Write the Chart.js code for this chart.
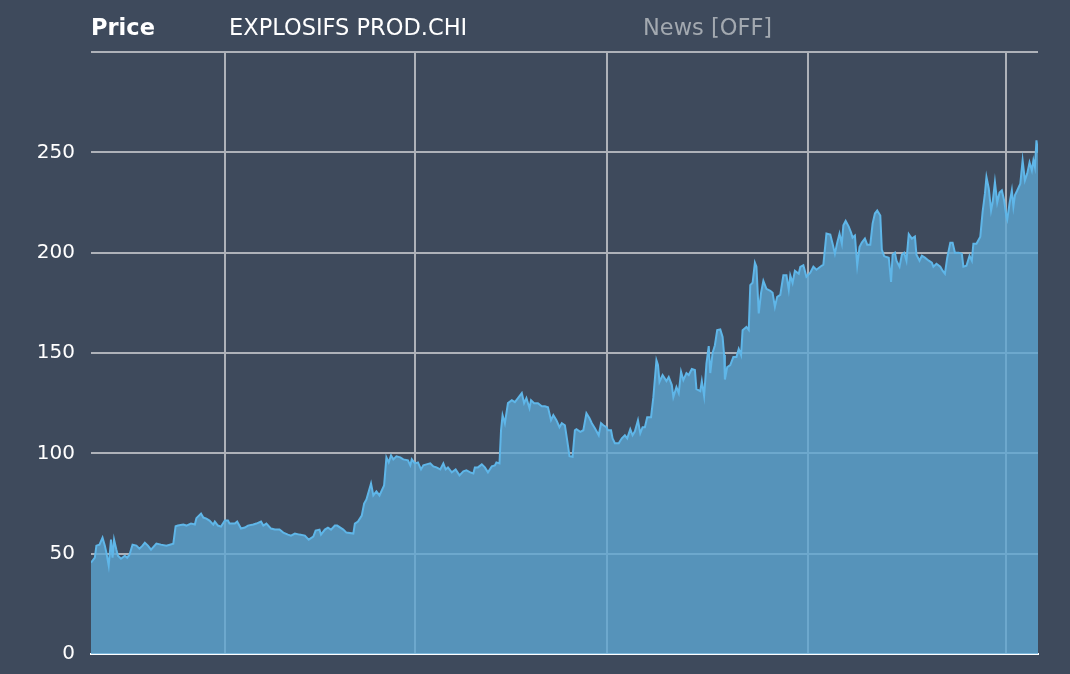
<!DOCTYPE html>
<html>
<head>
<meta charset="utf-8">
<script src="https://cdn.jsdelivr.net/npm/chart.js@4/dist/chart.umd.min.js"></script>
<style>
    html, body { margin: 0; padding: 0; background: #3e4a5c; }
    #wrap { position: relative; width: 1070px; height: 674px; }
    .head { position: absolute; top: 14px; font-family: "DejaVu Sans", Verdana, sans-serif; font-size: 22.5px; line-height: 26px; white-space: nowrap; }
    #title { left: 91px; color: #ffffff; font-weight: bold; }
    #name { left: 229px; color: #ffffff; }
    #news { left: 643px; color: #a3a9b0; }
    canvas { position: absolute; left: 0; top: 0; }
</style>
</head>
<body>
<div id="wrap">
    <canvas id="priceChart" width="1070" height="674"></canvas>
    <div class="head" id="title">Price</div>
    <div class="head" id="name">EXPLOSIFS PROD.CHI</div>
    <div class="head" id="news">News [OFF]</div>
</div>
<script>
// seans numarası (işlem günü) ve kapanış fiyatı
const sessions = [
    0, 5, 7, 11, 15, 18, 20, 23, 26, 28, 30, 33, 35, 39, 44, 47, 50, 54, 59, 63,
    67, 70, 74, 78, 85, 91, 98, 107, 110, 113, 120, 124, 130, 135, 137, 143, 146, 150, 154, 159,
    161, 165, 169, 174, 178, 180, 187, 190, 195, 200, 204, 211, 215, 221, 224, 228, 234, 239, 245, 250,
    256, 260, 265, 271, 278, 283, 289, 292, 297, 299, 304, 308, 312, 317, 320, 328, 332, 341, 343, 347,
    352, 355, 358, 361, 364, 367, 371, 375, 378, 381, 384, 387, 390, 393, 397, 402, 406, 412, 415, 417,
    421, 425, 429, 432, 436, 441, 445, 449, 454, 458, 461, 464, 469, 474, 479, 484, 488, 493, 497, 499,
    503, 508, 512, 516, 521, 525, 527, 531, 533, 535, 538, 542, 547, 551, 555, 560, 563, 566, 570, 572,
    576, 581, 586, 590, 594, 598, 601, 605, 609, 612, 616, 619, 622, 626, 629, 631, 636, 640, 644, 648,
    651, 655, 660, 663, 666, 670, 672, 676, 678, 681, 686, 690, 694, 697, 701, 704, 707, 711, 714, 717,
    720, 723, 728, 731, 735, 737, 739, 743, 748, 751, 755, 757, 761, 764, 767, 770, 774, 777, 781, 785,
    787, 792, 794, 797, 800, 803, 805, 808, 811, 814, 818, 821, 823, 824, 827, 831, 835, 839, 842, 845,
    847, 852, 855, 857, 860, 863, 865, 868, 871, 874, 878, 883, 886, 889, 892, 896, 900, 904, 907, 909,
    912, 915, 920, 922, 926, 930, 935, 939, 943, 948, 952, 956, 961, 964, 967, 970, 973, 976, 978, 981,
    985, 988, 990, 993, 996, 999, 1002, 1006, 1009, 1013, 1016, 1019, 1022, 1026, 1028, 1031, 1034, 1037, 1040, 1042,
    1045, 1047, 1051, 1054, 1057, 1060, 1063, 1067, 1071, 1073, 1077, 1080, 1084, 1089, 1093, 1095, 1099, 1104, 1107, 1110,
    1113, 1117, 1120, 1123, 1128, 1132, 1134, 1138, 1142, 1145, 1147, 1151, 1156, 1159, 1162, 1164, 1167, 1170, 1172, 1175,
    1178, 1181, 1184, 1187, 1190, 1191, 1194, 1197, 1199, 1201, 1204, 1208, 1211, 1214, 1217, 1220, 1223, 1225, 1227, 1229,
    1231
];
const prices = [
    45.5, 48, 54, 54.5, 58, 54, 50.5, 44, 57, 48, 57, 52, 49, 47.5, 49, 48, 49.5, 54.5, 54, 52.5,
    54, 55.5, 54, 52, 55, 54.5, 54, 55, 63.7, 64, 64.5, 64, 65, 64.5, 67.7, 70, 68, 67.5, 66.5, 64.5,
    66, 64, 63.5, 66.5, 66.5, 65, 65, 66, 62.5, 63, 64, 64.5, 65, 66, 64, 65, 62.5, 62, 62, 60.5,
    59.5, 59, 60, 59.5, 59, 57, 58.5, 61.5, 62, 59.5, 62, 63, 62, 64, 64, 62, 60.5, 60, 65, 66,
    69, 75, 77, 81, 85, 79, 81, 79, 81.5, 84, 98, 95.5, 99, 97, 98.5, 98, 97, 96.5, 94, 97,
    95, 95.5, 92, 94, 94.5, 95, 93.5, 93, 92, 95, 92, 93, 90.5, 92, 89, 91, 91.5, 90.5, 90, 93,
    93, 94.5, 93, 90.5, 93.5, 94, 95.5, 95, 111.5, 119, 115, 125, 126.5, 125.5, 127.5, 130, 125, 127.5, 122.5, 126.5,
    125, 125, 123.5, 123.5, 123, 116.5, 119, 116.5, 113, 115, 114, 106.5, 98.6, 98.3, 111.5, 112, 110.7, 111.5, 120, 117.5,
    115, 112.5, 109, 115, 114, 113, 111.5, 111.5, 107.4, 105, 105, 107.5, 109, 107.5, 112, 109, 111, 116.5, 110, 113,
    113, 118, 118, 128, 146.4, 144, 135.6, 139, 136, 138, 134, 128, 133, 130, 140.6, 136.5, 140, 139, 142, 141.5,
    132, 131, 136, 128.5, 144.7, 153.4, 140, 150, 153.9, 161.4, 161.7, 158, 149, 136.8, 143, 144, 148, 148, 152, 149,
    161.4, 163, 161.5, 183.8, 185, 195, 193, 169.7, 180, 186, 182, 181, 180, 173, 178, 179, 188.7, 188.7, 181.5, 188.7,
    185, 191, 189.5, 192.9, 193.7, 188, 190, 193, 191.5, 193, 194, 209.5, 209, 204.5, 199.5, 205, 209.5, 204.5, 213.6, 215.8,
    213, 210, 207.5, 208.5, 193.7, 202.8, 205, 207, 204, 204, 214.5, 219.5, 221, 218.5, 201.6, 198.3, 197.8, 197.5, 185.4, 199,
    200, 196, 193, 199, 200, 196, 209.2, 207, 208, 199, 196, 198.5, 197.5, 196, 195, 193, 194.5, 193, 191, 189.5,
    197.5, 205, 205, 200, 200, 199.5, 193, 193.5, 198.5, 196, 204.5, 204.5, 208, 220.3, 229.4, 237.7, 232, 221, 225, 235.2,
    225, 230, 231, 226, 217.8, 216.5, 224.5, 231, 223, 228.6, 231, 234.4, 246, 236, 239.4, 245, 241, 246, 242.6, 256,
    250
];
// dikey ızgara çizgileri: yıl başları (seans numarası)
const yearStarts = [174, 421, 671, 932, 1190];
const yTicks = [0, 50, 100, 150, 200, 250, 300];

const points = sessions.map((s, i) => ({ x: s, y: prices[i] }));

const gridGrey = '#aeb2b9';
const ctx = document.getElementById('priceChart').getContext('2d');

const chart = new Chart(ctx, {
    type: 'line',
    data: {
        datasets: [{
            label: 'Price',
            data: points,
            borderColor: '#5fb6e8',
            borderWidth: 2,
            backgroundColor: 'rgba(92, 165, 210, 0.8)',
            fill: 'origin',
            pointRadius: 0,
            tension: 0
        }]
    },
    options: {
        responsive: false,
        animation: false,
        layout: { padding: { left: 0, right: 32, top: 52, bottom: 20 } },
        plugins: {
            legend: { display: false },
            tooltip: { enabled: false }
        },
        scales: {
            x: {
                type: 'linear',
                min: 0,
                max: sessions[sessions.length - 1],
                afterBuildTicks: scale => { scale.ticks = yearStarts.map(v => ({ value: v })); },
                afterFit: scale => { scale.height = 0; },
                ticks: { display: false },
                grid: { color: gridGrey, lineWidth: 2, drawTicks: false },
                border: { display: true, color: '#ffffff', width: 2 }
            },
            y: {
                min: 0,
                max: 300,
                afterBuildTicks: scale => { scale.ticks = yTicks.map(v => ({ value: v })); },
                afterFit: scale => {
                    scale.width = 91;
                    scale.paddingTop = 0;
                    scale.paddingBottom = 0;
                },
                ticks: {
                    color: '#ffffff',
                    padding: 16,
                    font: { family: 'DejaVu Sans', size: 20 },
                    callback: v => (v === 300 ? '' : v)
                },
                grid: { color: gridGrey, lineWidth: 2, drawTicks: false },
                border: { display: false }
            }
        }
    }
});
</script>
</body>
</html>
